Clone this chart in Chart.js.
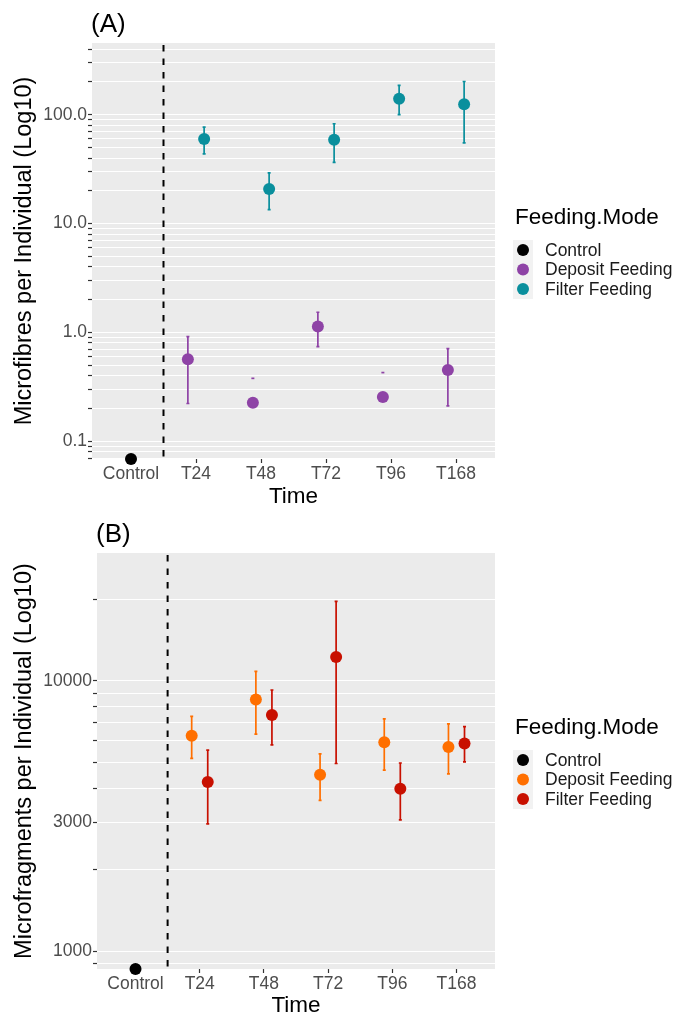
<!DOCTYPE html>
<html>
<head>
<meta charset="utf-8">
<script src="https://cdn.jsdelivr.net/npm/chart.js@4"></script>
<style>
  html, body { margin: 0; padding: 0; background: #fff; }
  .panel { position: relative; width: 677px; height: 508px; }
  #wrapB { height: 509px; }
</style>
</head>
<body>
<div class="panel" id="wrapA"><canvas id="chartA"></canvas></div>
<div class="panel" id="wrapB"><canvas id="chartB"></canvas></div>
<script>
const categories = ['Control', 'T24', 'T48', 'T72', 'T96', 'T168'];
const modes = ['Control', 'Deposit Feeding', 'Filter Feeding'];

// (A) microfibres per individual, mean and error-bar ends (null = not drawn)
const fibreControl = [0, null, null, null, null, null];
const fibreDeposit = [null, 0.565, 0.226, 1.13, 0.255, 0.451];
const fibreDepositHigh = [null, 0.913, 0.378, 1.53, 0.427, 0.709];
const fibreDepositLow = [null, 0.222, null, 0.739, null, 0.211];
const fibreFilter = [null, 59.8, 20.8, 59, 140, 125];
const fibreFilterHigh = [null, 77, 29.2, 82.6, 186, 202];
const fibreFilterLow = [null, 43.6, 13.4, 36.5, 100, 55];

// (B) microfragments per individual
const fragControl = [0, null, null, null, null, null];
const fragDeposit = [null, 6266, 8530, 4489, 5920, 5690];
const fragDepositHigh = [null, 7386, 10820, 5370, 7229, 6925];
const fragDepositLow = [null, 5168, 6350, 3614, 4670, 4527];
const fragFilter = [null, 4227, 7466, 12230, 3991, 5862];
const fragFilterHigh = [null, 5536, 9240, 19620, 4966, 6768];
const fragFilterLow = [null, 2958, 5795, 4944, 3063, 5013];

// log axis ticks
const fibreTicks = [0.07, 0.08, 0.09, 0.1, 0.2, 0.3, 0.4, 0.5, 0.6, 0.7, 0.8, 0.9,
  1, 2, 3, 4, 5, 6, 7, 8, 9, 10, 20, 30, 40, 50, 60, 70, 80, 90, 100, 200, 300, 400];
const fibreLabelled = [0.1, 1, 10, 100];
const fragTicks = [900, 1000, 2000, 3000, 4000, 5000, 6000, 7000, 8000, 9000, 10000, 20000];
const fragLabelled = [1000, 3000, 10000];

const FONT = "'Liberation Sans', Arial, sans-serif";
Chart.defaults.font.family = FONT;
Chart.defaults.animation = false;

const DODGE = 0.125;

// zero counts can't sit on a log axis, so they go to the panel floor (as ggplot does with -Inf)
function points(values, high, low, shift, floor) {
    const out = [];
    values.forEach((v, i) => {
        if (v === null) return;
        out.push({
            x: i + shift,
            y: v === 0 ? floor : v,
            hi: high ? high[i] : null,
            lo: low ? low[i] : null
        });
    });
    return out;
}

// grey panel like ggplot
const panelBg = {
    id: 'panelBg',
    beforeDraw(chart) {
        const { ctx, chartArea: a } = chart;
        ctx.save();
        ctx.fillStyle = '#EBEBEB';
        ctx.fillRect(a.left, a.top, a.right - a.left, a.bottom - a.top);
        ctx.restore();
    }
};

const errorBars = {
    id: 'errorBars',
    beforeDatasetsDraw(chart) {
        const { ctx, scales: { x, y } } = chart;
        chart.data.datasets.forEach(ds => {
            ctx.save();
            ctx.strokeStyle = ds.backgroundColor;
            ctx.lineWidth = 1.7;
            ds.data.forEach(p => {
                if (p.hi == null) return;
                const px = x.getPixelForValue(p.x);
                const top = y.getPixelForValue(p.hi);
                ctx.beginPath();
                ctx.moveTo(px - 1.5, top);
                ctx.lineTo(px + 1.5, top);
                if (p.lo != null) {
                    const bot = y.getPixelForValue(p.lo);
                    ctx.moveTo(px, top);
                    ctx.lineTo(px, bot);
                    ctx.moveTo(px - 1.5, bot);
                    ctx.lineTo(px + 1.5, bot);
                }
                ctx.stroke();
            });
            ctx.restore();
        });

        // dashed separator between Control and the time points
        const a = chart.chartArea;
        const vx = x.getPixelForValue(0.5);
        ctx.save();
        ctx.strokeStyle = '#000';
        ctx.lineWidth = 2;
        ctx.setLineDash([6.5, 7]);
        ctx.beginPath();
        ctx.moveTo(vx, a.top + 2);
        ctx.lineTo(vx, a.bottom);
        ctx.stroke();
        ctx.restore();
    }
};

// panel tag and ggplot-style legend
const decorations = {
    id: 'decorations',
    afterDraw(chart, args, opts) {
        const { ctx, chartArea: a } = chart;
        ctx.save();
        ctx.fillStyle = '#000';
        ctx.textBaseline = 'middle';
        ctx.textAlign = 'left';
        ctx.font = '26px ' + FONT;
        ctx.fillText(opts.tag, a.left - 1, opts.tagY);

        const lx = a.right + 20;
        const cy = (a.top + a.bottom) / 2;
        ctx.font = '22.5px ' + FONT;
        ctx.fillText('Feeding.Mode', lx, cy - 33);

        ctx.fillStyle = '#F2F2F2';
        ctx.fillRect(lx - 2, cy - 11, 20, 59);
        chart.data.datasets.forEach((ds, i) => {
            const iy = cy - 1 + i * 19.5;
            ctx.fillStyle = ds.backgroundColor;
            ctx.beginPath();
            ctx.arc(lx + 8, iy, 6, 0, Math.PI * 2);
            ctx.fill();
            ctx.fillStyle = '#1A1A1A';
            ctx.font = '17.5px ' + FONT;
            ctx.fillText(ds.label, lx + 30, iy + 1);
        });
        ctx.restore();
    }
};

function makePanel(canvasId, p) {
    const datasets = [
        { label: modes[0], data: points(p.control, null, null, 0, p.yMin), backgroundColor: '#000000' },
        { label: modes[1], data: points(p.deposit, p.depositHigh, p.depositLow, -DODGE, p.yMin), backgroundColor: p.colors[0] },
        { label: modes[2], data: points(p.filter, p.filterHigh, p.filterLow, DODGE, p.yMin), backgroundColor: p.colors[1] }
    ].map(ds => Object.assign(ds, {
        type: 'scatter',
        showLine: false,
        pointRadius: 6,
        pointHoverRadius: 6,
        borderWidth: 0,
        clip: false
    }));

    return new Chart(document.getElementById(canvasId), {
        type: 'scatter',
        data: { datasets },
        options: {
            responsive: true,
            maintainAspectRatio: false,
            layout: { padding: { top: p.top, right: 182, left: 0, bottom: 0 } },
            plugins: {
                legend: { display: false },
                tooltip: { enabled: false },
                decorations: { tag: p.tag, tagY: p.tagY }
            },
            scales: {
                x: {
                    type: 'linear',
                    min: -0.6,
                    max: 5.6,
                    afterBuildTicks: s => { s.ticks = categories.map((c, i) => ({ value: i })); },
                    afterFit: s => { s.height = p.xHeight; },
                    ticks: {
                        callback: v => categories[v],
                        color: '#4D4D4D',
                        font: { size: 17.5 },
                        padding: 1,
                        maxRotation: 0,
                        autoSkip: false
                    },
                    grid: { drawOnChartArea: false, tickLength: 4, tickColor: '#333333', tickWidth: 1.2 },
                    border: { display: false },
                    title: {
                        display: true,
                        text: 'Time',
                        color: '#000',
                        font: { size: 22.5, lineHeight: 1 },
                        padding: { top: 0, bottom: 0 }
                    }
                },
                y: {
                    type: 'logarithmic',
                    min: p.yMin,
                    max: p.yMax,
                    afterBuildTicks: s => { s.ticks = p.ticks.map(v => ({ value: v })); },
                    afterFit: s => { s.width = p.yWidth; },
                    ticks: {
                        callback: v => p.labelled.includes(v) ? p.format(v) : '',
                        color: '#4D4D4D',
                        font: { size: 17.5 },
                        padding: 1,
                        autoSkip: false
                    },
                    grid: { color: '#FFFFFF', lineWidth: 1, tickLength: 4, tickColor: '#333333', tickWidth: 1.2 },
                    border: { display: false },
                    title: {
                        display: true,
                        text: p.yTitle,
                        color: '#000',
                        font: { size: 23.5, lineHeight: 1 },
                        padding: { top: 13, bottom: 0 }
                    }
                }
            }
        },
        plugins: [panelBg, errorBars, decorations]
    });
}

makePanel('chartA', {
    tag: '(A)', tagY: 25, top: 43, xHeight: 49, yWidth: 92,
    yMin: 0.0686, yMax: 456,
    ticks: fibreTicks, labelled: fibreLabelled, format: v => v.toFixed(1),
    yTitle: 'Microfibres per Individual (Log10)',
    colors: ['#8E43A6', '#0A8F9D'],
    control: fibreControl,
    deposit: fibreDeposit, depositHigh: fibreDepositHigh, depositLow: fibreDepositLow,
    filter: fibreFilter, filterHigh: fibreFilterHigh, filterLow: fibreFilterLow
});

makePanel('chartB', {
    tag: '(B)', tagY: 27, top: 45, xHeight: 48, yWidth: 97,
    yMin: 861, yMax: 29630,
    ticks: fragTicks, labelled: fragLabelled, format: v => String(v),
    yTitle: 'Microfragments per Individual (Log10)',
    colors: ['#FF6F00', '#C81000'],
    control: fragControl,
    deposit: fragDeposit, depositHigh: fragDepositHigh, depositLow: fragDepositLow,
    filter: fragFilter, filterHigh: fragFilterHigh, filterLow: fragFilterLow
});
</script>
</body>
</html>
